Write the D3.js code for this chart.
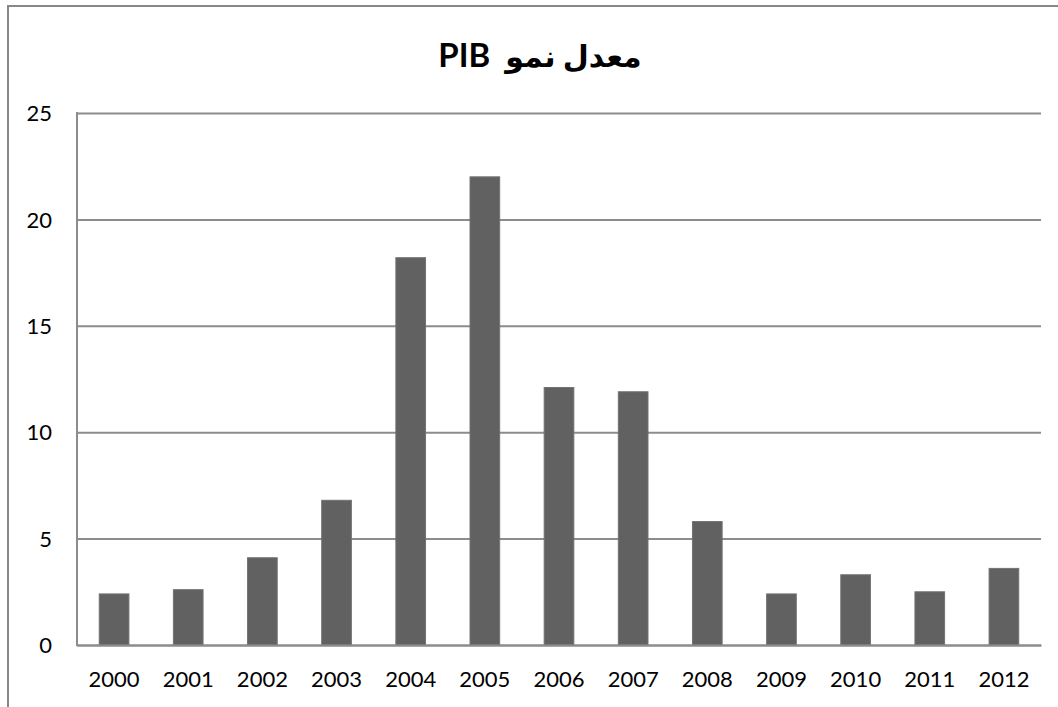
<!DOCTYPE html>
<html>
<head>
<meta charset="utf-8">
<script src="https://cdn.jsdelivr.net/npm/d3@7"></script>
<style>
  html, body { margin: 0; padding: 0; background: #fff; }
  svg { display: block; }
</style>
</head>
<body>
<script>
// GDP growth rate by year
const years = ["2000", "2001", "2002", "2003", "2004", "2005", "2006",
               "2007", "2008", "2009", "2010", "2011", "2012"];
const growth = [2.4, 2.6, 4.1, 6.8, 18.2, 22.0, 12.1, 11.9, 5.8, 2.4, 3.3, 2.5, 3.6];
const yTicks = [0, 5, 10, 15, 20, 25];
const titleArabic = "معدل نمو";
const titleLatin = "PIB";

const W = 1058, H = 707;
const plot = { left: 77, right: 1041, top: 113, bottom: 645 };
const font = "Lato, 'DejaVu Sans', sans-serif";

const svg = d3.select("body").append("svg")
  .attr("width", W).attr("height", H);

// chart frame (extends past the right and bottom edges)
svg.append("rect")
  .attr("x", 8).attr("y", 6)
  .attr("width", 1200).attr("height", 900)
  .attr("fill", "#fff")
  .attr("stroke", "#878787")
  .attr("stroke-width", 2);

const x = d3.scaleBand()
  .domain(years)
  .range([plot.left, plot.right])
  .paddingInner(0.6)
  .paddingOuter(0.3);

const y = d3.scaleLinear()
  .domain([0, 25])
  .range([plot.bottom, plot.top]);

// horizontal gridlines + value labels
const yAxis = svg.append("g")
  .attr("transform", `translate(${plot.left},0)`)
  .call(d3.axisLeft(y)
    .tickValues(yTicks)
    .tickSize(-(plot.right - plot.left))
    .tickPadding(25)
    .tickFormat(d3.format("d")));
yAxis.select(".domain").remove();
yAxis.selectAll(".tick line")
  .attr("stroke", "#8c8c8c")
  .attr("stroke-width", 2);
yAxis.selectAll(".tick text")
  .attr("fill", "#000")
  .attr("font-family", font)
  .attr("font-size", 22)
  .attr("dy", "0.35em");

// left axis line
svg.append("line")
  .attr("x1", plot.left).attr("x2", plot.left)
  .attr("y1", plot.top - 1).attr("y2", plot.bottom + 1)
  .attr("stroke", "#8c8c8c").attr("stroke-width", 2);

// bars
svg.append("g")
  .selectAll("rect")
  .data(years.map((yr, i) => ({ yr, v: growth[i] })))
  .join("rect")
  .attr("x", d => x(d.yr))
  .attr("y", d => y(d.v))
  .attr("width", x.bandwidth())
  .attr("height", d => y(0) - y(d.v))
  .attr("fill", "#616161")
  .attr("stroke", "#727272")
  .attr("stroke-width", 1);

// category axis
const xAxis = svg.append("g")
  .attr("transform", `translate(0,${plot.bottom})`)
  .call(d3.axisBottom(x).tickSize(0).tickPadding(26));
xAxis.select(".domain")
  .attr("stroke", "#8c8c8c")
  .attr("stroke-width", 2);
xAxis.selectAll(".tick text")
  .attr("fill", "#000")
  .attr("font-family", font)
  .attr("font-size", 22);

// title: Latin part on the left, Arabic part on the right, centred as a group
const titleG = svg.append("g");
const latin = titleG.append("text")
  .attr("y", 67)
  .attr("font-family", font)
  .attr("font-weight", "bold")
  .attr("font-size", 33)
  .attr("fill", "#000")
  .text(titleLatin);
const arabic = titleG.append("text")
  .attr("y", 67)
  .attr("direction", "rtl")
  .attr("font-family", font)
  .attr("font-weight", "bold")
  .attr("font-size", 30)
  .attr("fill", "#000")
  .text(titleArabic);
const gap = 15;
const wL = latin.node().getComputedTextLength();
const wA = arabic.node().getComputedTextLength();
const x0 = 540 - (wL + gap + wA) / 2;
latin.attr("x", x0).attr("text-anchor", "start");
arabic.attr("x", x0 + wL + gap + wA).attr("text-anchor", "start");
</script>
</body>
</html>
